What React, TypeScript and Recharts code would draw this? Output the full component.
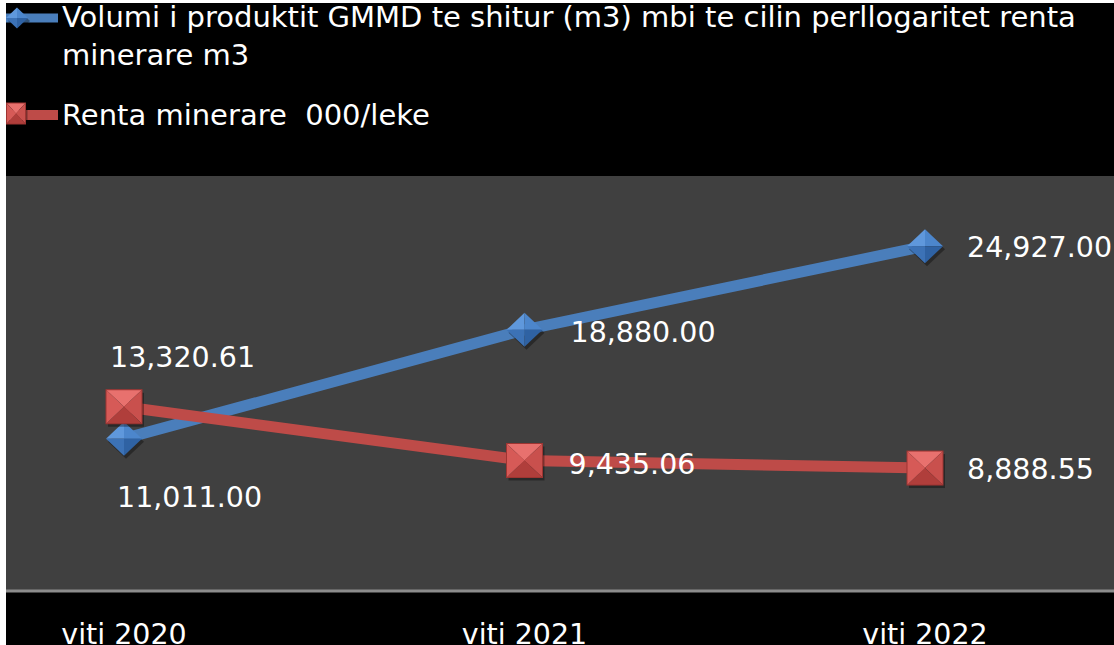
import React from 'react';
import { LineChart, Line, XAxis, YAxis, CartesianGrid, Legend } from 'recharts';

const categories = ['viti 2020', 'viti 2021', 'viti 2022'];
const volumeValues = [11011.0, 18880.0, 24927.0];
const rentValues = [13320.61, 9435.06, 8888.55];
const seriesNames = [
  'Volumi i produktit GMMD te shitur (m3) mbi te cilin perllogaritet renta minerare m3',
  'Renta minerare  000/leke',
];
const legendLines = [
  'Volumi i produktit GMMD te shitur (m3) mbi te cilin perllogaritet renta',
  'minerare m3',
  'Renta minerare  000/leke',
];
const yDomain = [0, 30000];

const data = categories.map((c, i) => ({ category: c, volume: volumeValues[i], rent: rentValues[i] }));

const FONT = '"DejaVu Sans", sans-serif';
const BLUE = '#4A7EBB';
const RED = '#BE4B48';

const fmt = (v: number) => v.toLocaleString('en-US', { minimumFractionDigits: 2, maximumFractionDigits: 2 });

function Diamond({ cx, cy, w = 18, h = 17 }: { cx: number; cy: number; w?: number; h?: number }) {
  const t = `${cx},${cy - h}`;
  const r = `${cx + w},${cy}`;
  const b = `${cx},${cy + h}`;
  const l = `${cx - w},${cy}`;
  const c = `${cx},${cy}`;
  return (
    <g>
      <polygon points={`${cx + 2},${cy - h + 3} ${cx + w + 2},${cy + 3} ${cx + 2},${cy + h + 3} ${cx - w + 2},${cy + 3}`} fill="#000" opacity={0.35} />
      <polygon points={`${l} ${t} ${c}`} fill="#5F98DC" />
      <polygon points={`${t} ${r} ${c}`} fill="#4C86CC" />
      <polygon points={`${r} ${b} ${c}`} fill="#2F62A3" />
      <polygon points={`${b} ${l} ${c}`} fill="#3C72B6" />
    </g>
  );
}

function Square({ cx, cy, w = 18, h = 17 }: { cx: number; cy: number; w?: number; h?: number }) {
  const tl = `${cx - w},${cy - h}`;
  const tr = `${cx + w},${cy - h}`;
  const br = `${cx + w},${cy + h}`;
  const bl = `${cx - w},${cy + h}`;
  const c = `${cx},${cy}`;
  return (
    <g>
      <rect x={cx - w + 2} y={cy - h + 3} width={2 * w} height={2 * h} fill="#000" opacity={0.35} />
      <polygon points={`${tl} ${tr} ${c}`} fill="#E8716E" />
      <polygon points={`${tr} ${br} ${c}`} fill="#C9504D" />
      <polygon points={`${br} ${bl} ${c}`} fill="#B03E3B" />
      <polygon points={`${bl} ${tl} ${c}`} fill="#D65A57" />
      <rect x={cx - w} y={cy - h} width={2 * w} height={2 * h} fill="none" stroke="#9E3532" strokeWidth={1} />
    </g>
  );
}

const volumeLabelOffsets = [
  { dx: -7, dy: 68 },
  { dx: 46, dy: 12 },
  { dx: 42, dy: 11 },
];
const rentLabelOffsets = [
  { dx: -14, dy: -40 },
  { dx: 44, dy: 14 },
  { dx: 42, dy: 11 },
];

const makeLabel = (offsets: { dx: number; dy: number }[]) => (props: any) => {
  const { x, y, value, index } = props;
  const o = offsets[index] || { dx: 0, dy: 0 };
  return (
    <text key={`l-${index}`} x={x + o.dx} y={y + o.dy} fill="#ffffff" fontSize={28.5} fontFamily={FONT} textAnchor="start">
      {fmt(Number(value))}
    </text>
  );
};

const renderLegend = () => (
  <svg width={1108} height={170} style={{ display: 'block' }}>
    <line x1={0} y1={15} x2={52} y2={15} stroke={BLUE} strokeWidth={9} />
    <Diamond cx={11} cy={15} w={11} h={10.5} />
    <text x={56} y={24} fill="#fff" fontSize={29} fontFamily={FONT} style={{ whiteSpace: 'pre' }}>{legendLines[0]}</text>
    <text x={56} y={62} fill="#fff" fontSize={29} fontFamily={FONT} style={{ whiteSpace: 'pre' }}>{legendLines[1]}</text>
    <line x1={0} y1={112} x2={52} y2={112} stroke={RED} strokeWidth={10} />
    <Square cx={10} cy={110.5} w={9.5} h={10.5} />
    <text x={56} y={122} fill="#fff" fontSize={29} fontFamily={FONT} style={{ whiteSpace: 'pre' }}>{legendLines[2]}</text>
  </svg>
);

export default function App() {
  return (
    <div style={{ position: 'absolute', left: 6, top: 3, width: 1108, height: 642, background: '#000', overflow: 'hidden' }}>
      <LineChart width={1108} height={642} data={data} margin={{ top: 3, right: 0, bottom: 0, left: 0 }}>
        <CartesianGrid horizontal={false} vertical={false} fill="#404040" stroke="none" />
        <XAxis
          dataKey="category"
          height={54}
          padding={{ left: 118, right: 189 }}
          axisLine={{ stroke: '#8C8C8C', strokeWidth: 3 }}
          tickLine={false}
          interval={0}
          tick={(p: any) => (
            <text key={`t-${p.index}`} x={p.x} y={640.5} fill="#fff" fontSize={28.5} fontFamily={FONT} textAnchor="middle">
              {p.payload.value}
            </text>
          )}
        />
        <YAxis hide domain={yDomain} />
        <Legend layout="vertical" align="center" verticalAlign="top" wrapperStyle={{ left: 0, top: 0, width: 1108 }} content={renderLegend} />
        <Line
          name={seriesNames[0]}
          dataKey="volume"
          stroke={BLUE}
          strokeWidth={11}
          isAnimationActive={false}
          activeDot={false}
          dot={(p: any) => <Diamond key={`d-${p.index}`} cx={p.cx} cy={p.cy} />}
          label={makeLabel(volumeLabelOffsets)}
        />
        <Line
          name={seriesNames[1]}
          dataKey="rent"
          stroke={RED}
          strokeWidth={11}
          isAnimationActive={false}
          activeDot={false}
          dot={(p: any) => <Square key={`s-${p.index}`} cx={p.cx} cy={p.cy} />}
          label={makeLabel(rentLabelOffsets)}
        />
      </LineChart>
    </div>
  );
}
